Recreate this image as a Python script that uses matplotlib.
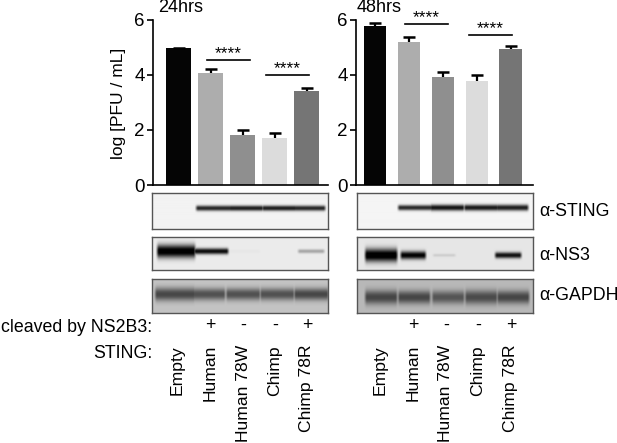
""" virus titre bars with western blots underneath """
import numpy as np
import matplotlib
matplotlib.use("Agg")
import matplotlib.pyplot as plt

plt.rcParams['font.family'] = ['Liberation Sans', 'DejaVu Sans']

W, H = 617, 443

strains = ['Empty', 'Human', 'Human 78W', 'Chimp', 'Chimp 78R']
cleaved = ['', '+', '-', '-', '+']
bar_colors = ['#050505', '#adadad', '#8f8f8f', '#dcdcdc', '#757575']

titre_24 = [4.95, 4.05, 1.80, 1.70, 3.40]
err_24 = [0.02, 0.17, 0.20, 0.17, 0.10]
titre_48 = [5.78, 5.18, 3.90, 3.77, 4.92]
err_48 = [0.10, 0.17, 0.20, 0.20, 0.11]

# band darkness per lane, grey levels below the background
sting_24 = [0, 205, 215, 215, 205]
ns3_24 = [250, 225, 5, 0, 70]
gapdh_24 = [125, 115, 115, 115, 125]
sting_48 = [0, 205, 225, 220, 215]
ns3_48 = [250, 230, 25, 0, 215]
gapdh_48 = [115, 115, 100, 110, 115]


def px_axes(left, top, right, bottom):
    """axes placed by reference pixels"""
    return fig.add_axes([left / W, 1 - bottom / H, (right - left) / W, (bottom - top) / H])


def px_text(x, y, s, **kw):
    kw.setdefault('fontsize', 12.8)
    kw.setdefault('va', 'center')
    fig.text(x / W, 1 - y / H, s, **kw)


def bars(box, xlim, width, vals, errs, title, title_x, sig):
    ax = px_axes(*box)
    xs = np.arange(len(vals))
    ax.bar(xs, vals, width=width, color=bar_colors)
    tops = np.array(vals) + np.array(errs)
    ax.vlines(xs, vals, tops, color='black', lw=1.6)
    ax.plot(xs, tops, ls='none', marker='_', ms=9, mew=1.8, color='black')
    ax.set_xlim(*xlim)
    ax.set_ylim(0, 6)
    ax.set_yticks([0, 2, 4, 6])
    ax.set_xticks([])
    ax.tick_params(axis='y', labelsize=13.5, length=4, width=1.2, pad=2)
    ax.spines['top'].set_visible(False)
    ax.spines['right'].set_visible(False)
    ax.spines['left'].set_linewidth(1.2)
    ax.spines['bottom'].set_linewidth(1.2)
    for a, b, y in sig:
        ax.plot([a, b], [y, y], color='black', lw=1.2, clip_on=False)
        ax.text((a + b) / 2, y - 0.03, '****', ha='center', va='bottom', fontsize=12.5)
    px_text(title_x, 8, title, fontsize=13)
    return ax


def blot(box, lane_x, lane_w, dark, thick, y_mid, bg):
    """one blot strip, drawn as a grey image"""
    ax = px_axes(*box)
    left, top, right, bottom = box
    xx, yy = np.meshgrid(np.arange(left, right, 0.5), np.arange(top, bottom, 0.5))
    depth = np.zeros(xx.shape)
    for cx, hw, d, t in zip(lane_x, lane_w, dark, thick):
        across = np.clip((hw - np.abs(xx - cx)) / 3.0 + 0.5, 0, 1)
        down = np.exp(-(np.abs(yy - y_mid) / t) ** 2.2)
        depth = np.maximum(depth, across * down * d)
    img = np.clip(bg - depth, 0, 255)
    ax.imshow(img, cmap='gray', vmin=0, vmax=255, aspect='auto', interpolation='bilinear')
    ax.set_xticks([])
    ax.set_yticks([])
    for sp in ax.spines.values():
        sp.set_color('#555555')
        sp.set_linewidth(1.0)


fig = plt.figure(figsize=(W / 100, H / 100), dpi=100)

bars((153, 19.5, 328, 185), (-0.80, 4.67), 0.78, titre_24, err_24, '24hrs', 158,
     [(0.88, 2.23, 4.53), (2.73, 4.08, 3.99)])
bars((356, 19.5, 532.7, 185), (-0.56, 4.65), 0.66, titre_48, err_48, '48hrs', 357,
     [(0.88, 2.16, 5.82), (2.77, 4.04, 5.44)])

blot((152, 193, 328, 229), [176, 214, 246, 279, 309], [0, 18, 17, 17, 16], sting_24,
     [3, 2.6, 2.6, 2.6, 2.6], 208.5, 243)
blot((152, 237, 328, 270), [176, 211, 244, 277, 311], [19, 17, 16, 10, 13], ns3_24,
     [6.5, 3, 2, 2, 2], 251, 236)
blot((152, 279, 328, 313), [175, 208, 243, 277, 311], [20, 17, 17, 17, 17], gapdh_24,
     [6.5, 6, 6, 6, 6], 294, 196)

blot((357, 193, 532.7, 229), [380, 415, 447, 481, 512], [0, 17, 17, 17, 16], sting_48,
     [3, 2.6, 3, 3, 3], 208, 245)
blot((357, 237, 532.7, 270), [381, 413, 444, 481, 508], [16, 12.5, 11, 10, 13], ns3_48,
     [6.5, 4, 1.5, 2, 3], 255, 230)
blot((357, 279, 532.7, 313), [381, 414, 448, 481, 513], [16, 16, 16, 16, 16], gapdh_48,
     [7, 6.5, 6.5, 7, 6.5], 297, 185)

px_text(118, 103, 'log [PFU / mL]', rotation=90, ha='center', fontsize=12.5)

px_text(539, 212, '\u03b1-STING')
px_text(539, 255, '\u03b1-NS3')
px_text(539, 296, '\u03b1-GAPDH')

px_text(152, 328, 'cleaved by NS2B3:', ha='right')
px_text(152, 354, 'STING:', ha='right')

for i, name in enumerate(strains):
    for lanes in ([177, 210, 243, 275, 307], [380, 413, 446, 478, 511]):
        px_text(lanes[i], 325, cleaved[i], ha='center')
        px_text(lanes[i], 345, name, rotation=90, ha='center', va='top', fontsize=12.6)

fig.savefig('out.png', dpi=100)
